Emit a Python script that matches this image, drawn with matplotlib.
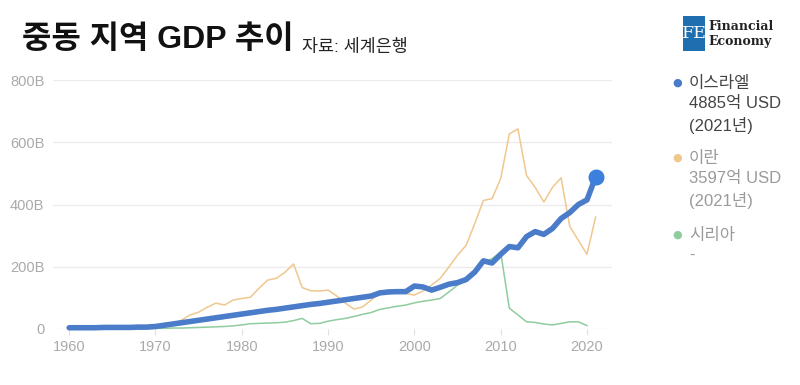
import matplotlib
matplotlib.use("Agg")
import matplotlib.pyplot as plt
from matplotlib.patches import Rectangle

plt.rcParams["font.family"] = ["Liberation Sans", "Noto Sans CJK KR", "DejaVu Sans"]

# GDP in billions USD
years = list(range(1960, 2022))

israel = [4, 4, 4, 4, 5, 5, 5, 5, 6, 6,
          8, 12, 16, 20, 24, 28, 32, 36, 40, 44,
          48, 52, 56, 60, 63, 67, 71, 75, 79, 82,
          86, 90, 94, 98, 102, 106, 116, 119, 120, 120,
          138, 135, 125, 134, 144, 149, 159, 183, 219, 212,
          240, 265, 261, 297, 313, 304, 323, 355, 374, 400,
          415, 488.5]

iran = [4, 4, 5, 5, 5, 6, 7, 8, 9, 10,
        11, 13, 17, 28, 45, 54, 70, 83, 77, 93,
        98, 102, 131, 157, 163, 182, 209, 133, 123, 122,
        125, 106, 83, 64, 71, 93, 115, 118, 117, 114,
        109, 122, 141, 163, 199, 237, 269, 339, 413, 419,
        483, 627, 643, 493, 455, 408, 455, 486, 330, 285,
        240, 359.7]

syria_years = list(range(1960, 2021))
syria = [1, 1, 1, 1, 1, 1, 1, 1, 2, 2,
         2, 2, 3, 3, 4, 5, 6, 7, 8, 10,
         13, 17, 18, 19, 20, 22, 27, 34, 17, 18,
         25, 30, 34, 40, 47, 53, 63, 68, 73, 77,
         84, 89, 93, 98, 119, 141, 157, 189, 215, 226,
         247, 67, 45, 23, 21, 16, 13, 18, 23, 23,
         11]

legend_lines = [
    ("이스라엘\n4885억 USD\n(2021년)", "#4a7cc9", "#444444"),
    ("이란\n3597억 USD\n(2021년)", "#f0c78e", "#9a9a9a"),
    ("시리아\n-", "#8fcc9e", "#9a9a9a"),
]

fig = plt.figure(figsize=(8, 3.85), dpi=100)
ax = fig.add_axes([0.066, 0.1455, 0.699, 0.6465])

ax.plot(syria_years, syria, color="#8fcc9e", lw=1.1, clip_on=False, zorder=2)
ax.plot(years, iran, color="#f0c78e", lw=1.1, clip_on=False, zorder=3)
ax.plot(years, israel, color="#4a7cc9", lw=4, clip_on=False, zorder=4,
        solid_joinstyle="round", solid_capstyle="round")
ax.plot(years[-1], israel[-1], "o", color="#3d7fdc", ms=10.5, clip_on=False, zorder=5)

ax.set_xlim(1958.1, 2022.9)
ax.set_ylim(0, 800)
ax.set_yticks([0, 200, 400, 600, 800])
ax.set_yticklabels(["0", "200B", "400B", "600B", "800B"])
ax.set_xticks(range(1960, 2021, 10))
ax.grid(axis="y", color="#ececec", lw=1)
ax.set_axisbelow(True)
for s in ax.spines.values():
    s.set_visible(False)
ax.tick_params(axis="y", length=0, pad=6, labelsize=10.5, labelcolor="#aaaaaa")
ax.tick_params(axis="x", length=4, color="#e0e0e0", pad=4, labelsize=10.5,
               labelcolor="#aaaaaa")

# title
fig.text(0.027, 0.895, "중동 지역 GDP 추이", fontsize=23, fontweight="bold",
         va="center", ha="left", color="#111111")
fig.text(0.377, 0.878, "자료: 세계은행", fontsize=12.5, va="center", ha="left",
         color="#222222")

# logo
fig.patches.append(Rectangle((0.854, 0.868), 0.027, 0.09, transform=fig.transFigure,
                             facecolor="#1f6fb0", edgecolor="none"))
fig.text(0.8675, 0.912, "FE", fontsize=12.5, family="DejaVu Serif", color="white",
         ha="center", va="center")
fig.text(0.885, 0.932, "Financial", fontsize=9, family="DejaVu Serif",
         fontweight="bold", color="#222222", va="center")
fig.text(0.885, 0.893, "Economy", fontsize=9, family="DejaVu Serif",
         fontweight="bold", color="#222222", va="center")

# legend
ys = [0.785, 0.59, 0.39]
for (txt, dot, tc), y in zip(legend_lines, ys):
    fig.text(0.846, y, "●", fontsize=8, color=dot, va="center", ha="center",
             family="DejaVu Sans")
    fig.text(0.861, y + 0.017, txt, fontsize=12, color=tc, va="top", ha="left",
             linespacing=1.42)

fig.savefig("out.png", dpi=100, facecolor="white")
